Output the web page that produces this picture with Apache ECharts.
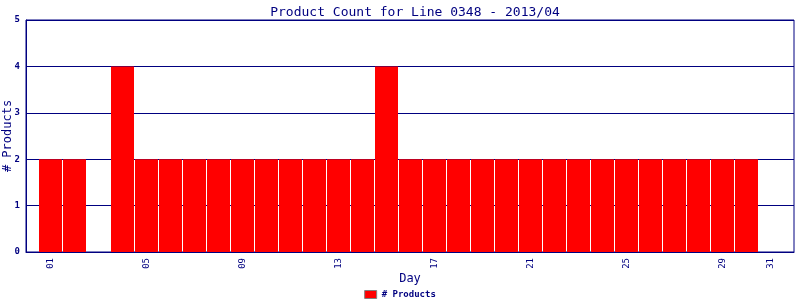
<!DOCTYPE html>
<html><head><meta charset="utf-8">
<script src="https://cdn.jsdelivr.net/npm/echarts@6/dist/echarts.min.js"></script>
<style>html,body{margin:0;padding:0;background:#fff}#c{width:800px;height:300px}</style>
</head><body><div id="c"></div>
<script>
const days = [1,2,3,4,5,6,7,8,9,10,11,12,13,14,15,16,17,18,19,20,21,22,23,24,25,26,27,28,29,30,31];
const products = [2,2,0,4,2,2,2,2,2,2,2,2,2,2,4,2,2,2,2,2,2,2,2,2,2,2,2,2,2,2,0];
const xTickDays = [1,5,9,13,17,21,25,29,31];
const yTicks = [0,1,2,3,4,5];
const navy = '#000080';
const font = 'DejaVu Sans Mono';
const chart = echarts.init(document.getElementById('c'), null, {renderer:'canvas'});
chart.setOption({
  animation:false,
  title:{text:'Product Count for Line 0348 - 2013/04', left:410, textAlign:'center', top:1,
    textStyle:{color:navy, fontFamily:font, fontSize:13, fontWeight:'normal'}},
  grid:{left:26, right:6, top:20, bottom:48, show:true, borderColor:navy, borderWidth:1,
    outerBoundsMode:'none', containLabel:false},
  legend:{bottom:1, left:'center', padding:0, itemWidth:12, itemHeight:8, itemGap:4, icon:'rect',
    textStyle:{color:navy, fontFamily:font, fontSize:9, fontWeight:'bold'},
    data:[{name:'# Products', itemStyle:{color:'#ff0000', borderColor:'#808080', borderWidth:1}}]},
  xAxis:{type:'value', min:-1/48, max:32-1/48, name:'Day', nameLocation:'middle', nameGap:21, nameMoveOverlap:false,
    nameTextStyle:{color:navy, fontFamily:font, fontSize:12},
    axisLine:{lineStyle:{color:navy, width:1}}, axisTick:{show:false}, splitLine:{show:false},
    axisLabel:{customValues:xTickDays, rotate:90, color:navy, fontFamily:font, fontSize:9, margin:6,
      formatter:v=>String(Math.round(v)).padStart(2,'0')}},
  yAxis:{type:'value', min:0, max:5, interval:1, name:'# Products', nameLocation:'middle', nameGap:12, nameMoveOverlap:false,
    nameTextStyle:{color:navy, fontFamily:font, fontSize:12},
    axisLine:{show:true, lineStyle:{color:navy, width:1}}, axisTick:{show:false},
    splitLine:{show:true, lineStyle:{color:navy, width:1}},
    axisLabel:{color:navy, fontFamily:font, fontSize:9, fontWeight:'bold', margin:6}},
  series:[{type:'bar', name:'# Products', barWidth:23,
    itemStyle:{color:'#ff0000'},
    data:days.map((d,i)=>[d, products[i]])}]
});
</script></body></html>
